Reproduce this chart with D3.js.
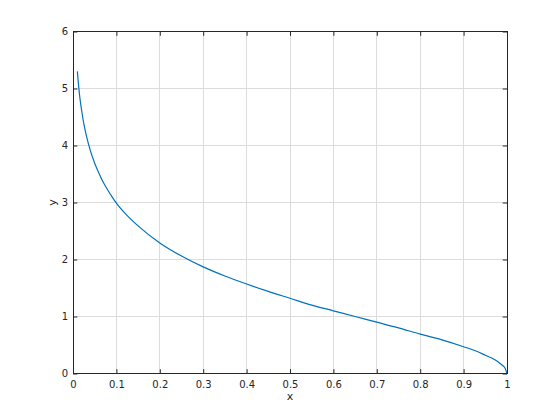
<!DOCTYPE html>
<html>
<head>
<meta charset="utf-8">
<script src="https://cdn.jsdelivr.net/npm/d3@7"></script>
<style>
  body { margin: 0; background: #fff; }
  svg text { font-family: "DejaVu Sans", sans-serif; }
</style>
</head>
<body>
<svg id="chart"></svg>
<script>
// values
var xValues = [0.01, 0.015, 0.02, 0.025, 0.03, 0.04, 0.05, 0.06, 0.07, 0.08, 0.09, 0.1,
    0.12, 0.15, 0.2, 0.25, 0.3, 0.35, 0.4, 0.45, 0.5, 0.55, 0.6, 0.65, 0.7, 0.75,
    0.8, 0.85, 0.9, 0.93, 0.95, 0.97, 0.98, 0.99, 0.995, 1.0];
var yValues = [5.30, 4.89, 4.61, 4.38, 4.20, 3.91, 3.69, 3.51, 3.35, 3.22, 3.10, 2.99,
    2.81, 2.59, 2.29, 2.06, 1.87, 1.71, 1.57, 1.44, 1.32, 1.20, 1.10, 1.00, 0.90, 0.80,
    0.69, 0.59, 0.47, 0.39, 0.32, 0.25, 0.20, 0.14, 0.10, 0.0];
var xTicks = [0, 0.1, 0.2, 0.3, 0.4, 0.5, 0.6, 0.7, 0.8, 0.9, 1];
var yTicks = [0, 1, 2, 3, 4, 5, 6];

var W = 560, H = 420;
var plot = {left: 73, top: 31.5, width: 434, height: 342};
var axisColor = '#262626';
var tickLen = 4.3;

var svg = d3.select('#chart')
    .attr('width', W)
    .attr('height', H);

var x = d3.scaleLinear().domain([0, 1]).range([plot.left, plot.left + plot.width]);
var y = d3.scaleLinear().domain([0, 6]).range([plot.top + plot.height, plot.top]);

// grid
var grid = svg.append('g').attr('class', 'grid');
grid.selectAll('line.gx')
    .data(xTicks)
    .enter().append('line')
    .attr('x1', function(d) {return x(d);})
    .attr('x2', function(d) {return x(d);})
    .attr('y1', y(0))
    .attr('y2', y(6))
    .attr('stroke', '#dcdcdc')
    .attr('stroke-width', 1)
    .attr('shape-rendering', 'crispEdges');
grid.selectAll('line.gy')
    .data(yTicks)
    .enter().append('line')
    .attr('x1', x(0))
    .attr('x2', x(1))
    .attr('y1', function(d) {return y(d);})
    .attr('y2', function(d) {return y(d);})
    .attr('stroke', '#dcdcdc')
    .attr('stroke-width', 1)
    .attr('shape-rendering', 'crispEdges');

// curve
var pts = xValues.map(function(d, i) {return [d, yValues[i]];});
svg.append('path')
    .datum(pts)
    .attr('fill', 'none')
    .attr('stroke', '#0072BD')
    .attr('stroke-width', 1.2)
    .attr('d', d3.line()
        .x(function(d) {return x(d[0]);})
        .y(function(d) {return y(d[1]);})
        .curve(d3.curveMonotoneX));

// axes, ticks pointing inward (box on)
function styleAxis(g) {
    g.select('.domain').remove();
    g.selectAll('.tick line').attr('stroke', axisColor);
    g.selectAll('.tick text')
        .attr('fill', axisColor)
        .attr('font-size', '10px');
}

svg.append('g')
    .attr('transform', 'translate(0,' + y(0) + ')')
    .call(d3.axisBottom(x).tickValues(xTicks).tickSizeInner(-tickLen).tickSizeOuter(0)
        .tickPadding(7).tickFormat(d3.format('')))
    .call(styleAxis);
svg.append('g')
    .attr('transform', 'translate(0,' + y(6) + ')')
    .call(d3.axisTop(x).tickValues(xTicks).tickSizeInner(-tickLen).tickSizeOuter(0)
        .tickFormat(''))
    .call(styleAxis);
svg.append('g')
    .attr('transform', 'translate(' + x(0) + ',0)')
    .call(d3.axisLeft(y).tickValues(yTicks).tickSizeInner(-tickLen).tickSizeOuter(0)
        .tickPadding(5).tickFormat(d3.format('d')))
    .call(styleAxis);
svg.append('g')
    .attr('transform', 'translate(' + x(1) + ',0)')
    .call(d3.axisRight(y).tickValues(yTicks).tickSizeInner(-tickLen).tickSizeOuter(0)
        .tickFormat(''))
    .call(styleAxis);

svg.append('rect')
    .attr('x', x(0))
    .attr('y', y(6))
    .attr('width', plot.width)
    .attr('height', plot.height)
    .attr('fill', 'none')
    .attr('stroke', axisColor)
    .attr('stroke-width', 1)
    .attr('shape-rendering', 'crispEdges');

// labels
svg.append('text')
    .attr('x', x(0.5))
    .attr('y', 400)
    .attr('text-anchor', 'middle')
    .attr('font-size', '11px')
    .attr('fill', axisColor)
    .text('x');
svg.append('text')
    .attr('transform', 'translate(56,' + y(3) + ') rotate(-90)')
    .attr('text-anchor', 'middle')
    .attr('font-size', '11px')
    .attr('fill', axisColor)
    .text('y');
</script>
</body>
</html>
